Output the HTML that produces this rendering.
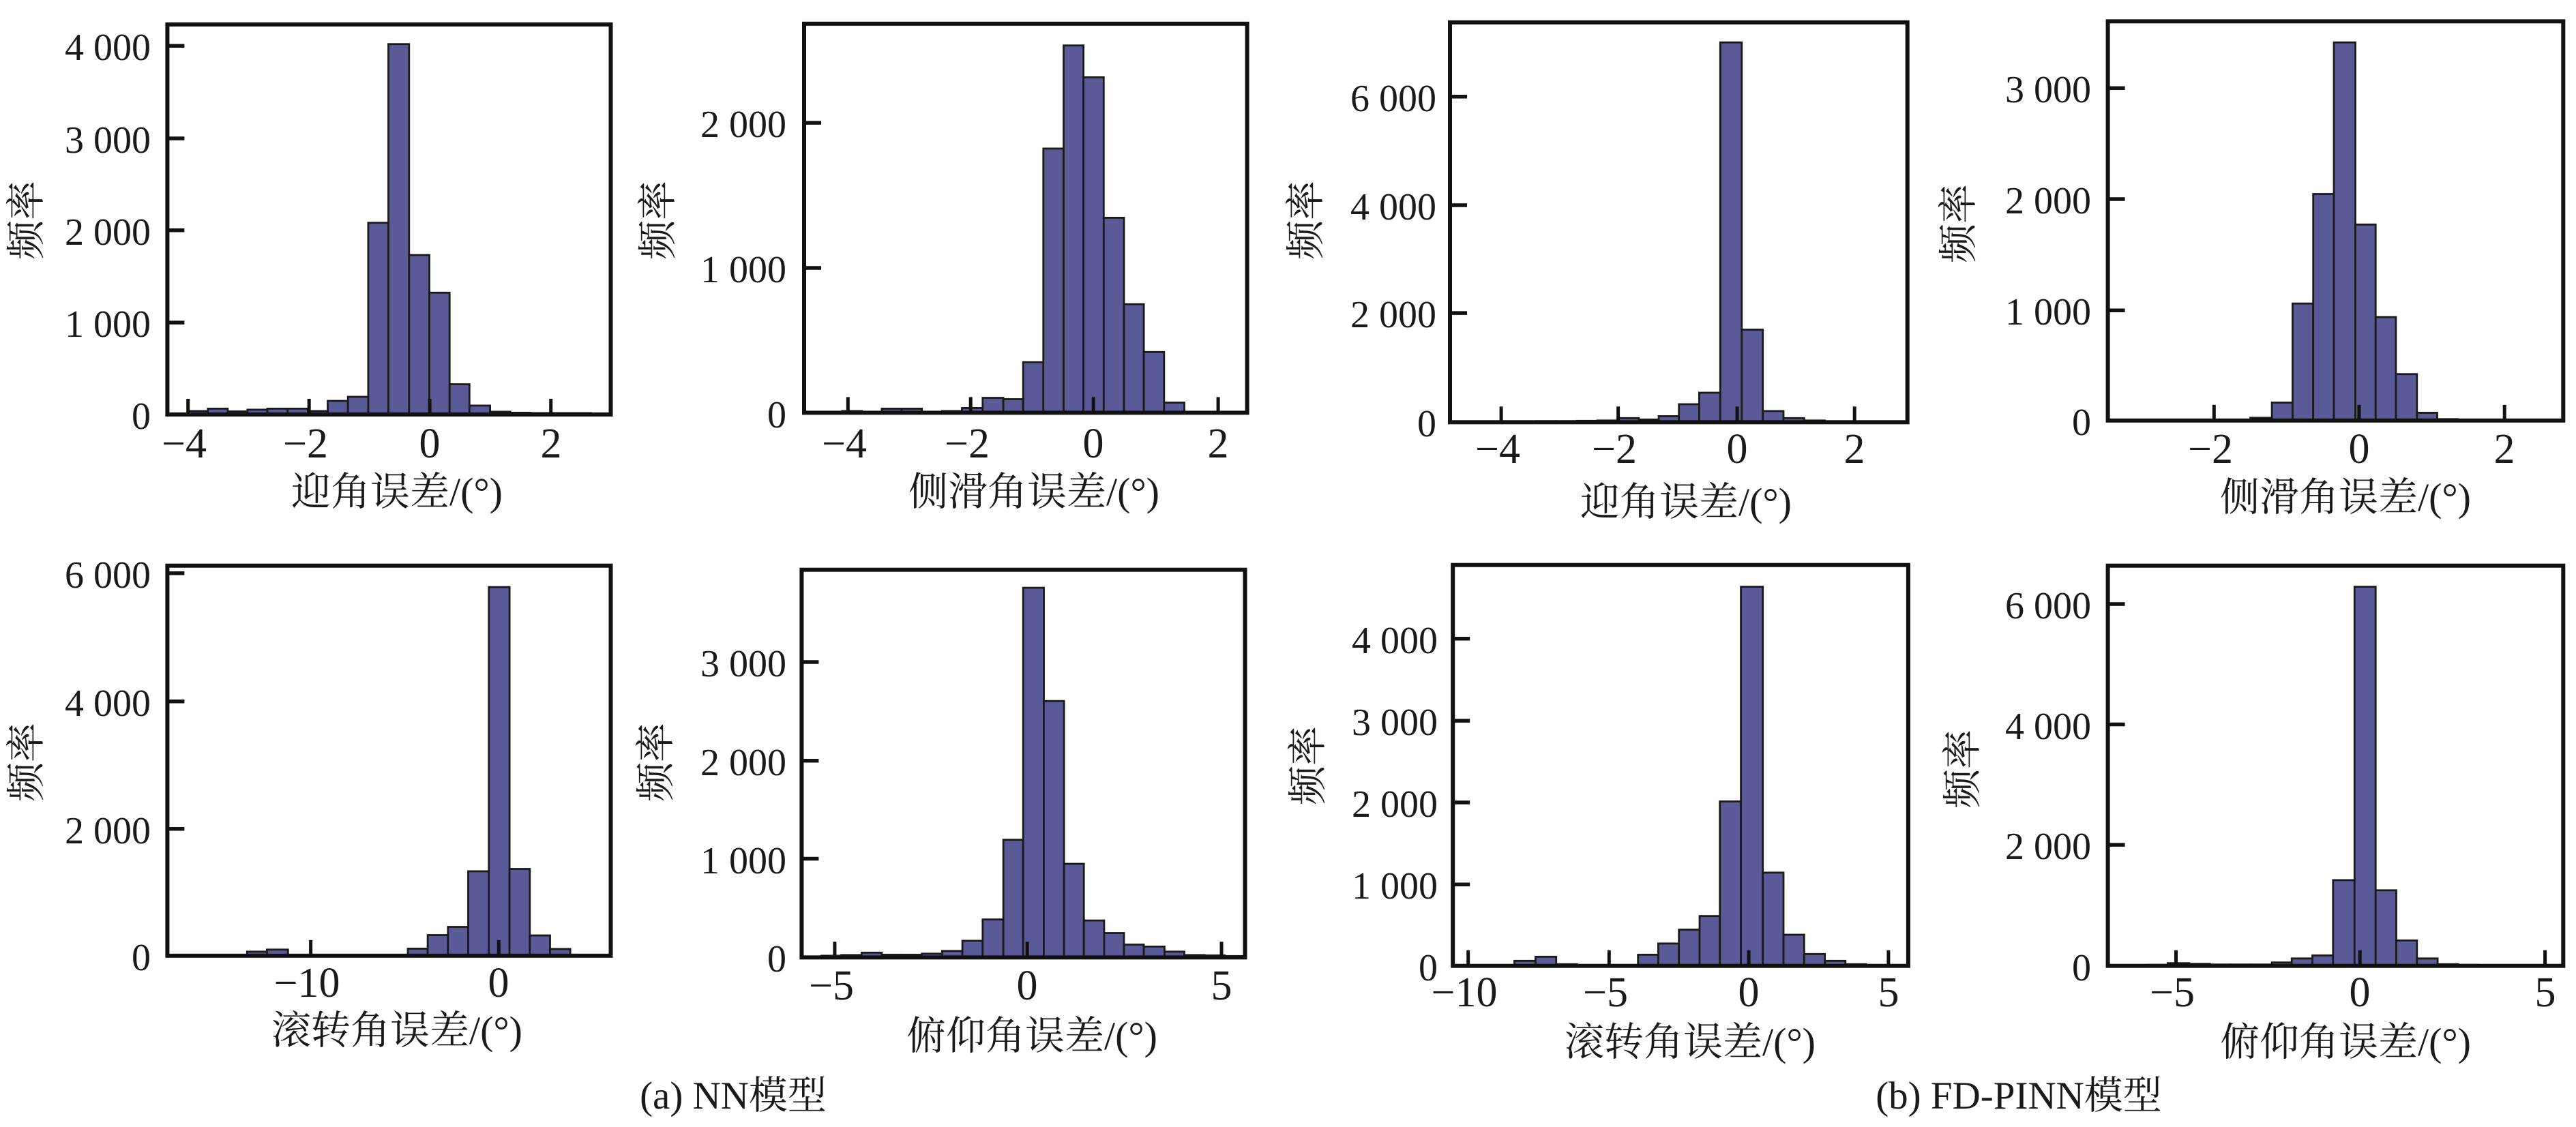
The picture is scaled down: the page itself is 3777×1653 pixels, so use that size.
<!DOCTYPE html>
<html><head><meta charset="utf-8">
<style>
html,body{margin:0;padding:0;background:#fff;}
svg{display:block;}
text{font-family:"Liberation Serif","Noto Serif CJK SC","Noto Sans CJK SC",serif;fill:#1a1a1a;}
.tk{font-size:62px;}
.yl{font-size:56px;text-anchor:end;}
.xl{font-size:62px;text-anchor:middle;}
.tt{font-size:58px;text-anchor:middle;}
.cap{font-size:57px;text-anchor:middle;}
</style></head>
<body>
<svg id="s" width="3777" height="1653" viewBox="0 0 3777 1653" xmlns="http://www.w3.org/2000/svg">
<g id="bars"></g>

<!-- Panel 1 -->
<text class="tk yl" x="221" y="88">4 000</text>
<text class="tk yl" x="221" y="224">3 000</text>
<text class="tk yl" x="221" y="359">2 000</text>
<text class="tk yl" x="221" y="494">1 000</text>
<text class="tk yl" x="221" y="629">0</text>
<text class="tk xl" x="270" y="671">−4</text>
<text class="tk xl" x="448" y="671">−2</text>
<text class="tk xl" x="630" y="671">0</text>
<text class="tk xl" x="808" y="671">2</text>
<text class="tt" x="582" y="741">迎角误差/(°)</text>
<text class="tt" transform="translate(58,323) rotate(-90)">频率</text>

<!-- Panel 2 -->
<text class="tk yl" x="1153" y="201">2 000</text>
<text class="tk yl" x="1153" y="414">1 000</text>
<text class="tk yl" x="1153" y="627">0</text>
<text class="tk xl" x="1238" y="671">−4</text>
<text class="tk xl" x="1418" y="671">−2</text>
<text class="tk xl" x="1603" y="671">0</text>
<text class="tk xl" x="1786" y="671">2</text>
<text class="tt" x="1516" y="741">侧滑角误差/(°)</text>
<text class="tt" transform="translate(984,323) rotate(-90)">频率</text>

<!-- Panel 3 -->
<text class="tk yl" x="2106" y="163">6 000</text>
<text class="tk yl" x="2106" y="322">4 000</text>
<text class="tk yl" x="2106" y="480">2 000</text>
<text class="tk yl" x="2106" y="640">0</text>
<text class="tk xl" x="2196" y="679">−4</text>
<text class="tk xl" x="2367" y="679">−2</text>
<text class="tk xl" x="2547" y="679">0</text>
<text class="tk xl" x="2719" y="679">2</text>
<text class="tt" x="2472" y="756">迎角误差/(°)</text>
<text class="tt" transform="translate(1934,323) rotate(-90)">频率</text>

<!-- Panel 4 -->
<text class="tk yl" x="3066" y="150">3 000</text>
<text class="tk yl" x="3066" y="313">2 000</text>
<text class="tk yl" x="3066" y="476">1 000</text>
<text class="tk yl" x="3066" y="638">0</text>
<text class="tk xl" x="3241" y="679">−2</text>
<text class="tk xl" x="3459" y="679">0</text>
<text class="tk xl" x="3672" y="679">2</text>
<text class="tt" x="3439" y="749">侧滑角误差/(°)</text>
<text class="tt" transform="translate(2891,328) rotate(-90)">频率</text>

<!-- Panel 5 -->
<text class="tk yl" x="221" y="862">6 000</text>
<text class="tk yl" x="221" y="1050">4 000</text>
<text class="tk yl" x="221" y="1237">2 000</text>
<text class="tk yl" x="221" y="1423">0</text>
<text class="tk xl" x="450" y="1462">−10</text>
<text class="tk xl" x="731" y="1462">0</text>
<text class="tt" x="582" y="1531">滚转角误差/(°)</text>
<text class="tt" transform="translate(58,1118) rotate(-90)">频率</text>

<!-- Panel 6 -->
<text class="tk yl" x="1153" y="992">3 000</text>
<text class="tk yl" x="1153" y="1137">2 000</text>
<text class="tk yl" x="1153" y="1281">1 000</text>
<text class="tk yl" x="1153" y="1425">0</text>
<text class="tk xl" x="1219" y="1466">−5</text>
<text class="tk xl" x="1506" y="1466">0</text>
<text class="tk xl" x="1791" y="1466">5</text>
<text class="tt" x="1513" y="1539">俯仰角误差/(°)</text>
<text class="tt" transform="translate(981,1118) rotate(-90)">频率</text>

<!-- Panel 7 -->
<text class="tk yl" x="2108" y="958">4 000</text>
<text class="tk yl" x="2108" y="1078">3 000</text>
<text class="tk yl" x="2108" y="1198">2 000</text>
<text class="tk yl" x="2108" y="1318">1 000</text>
<text class="tk yl" x="2108" y="1438">0</text>
<text class="tk xl" x="2147" y="1476">−10</text>
<text class="tk xl" x="2354" y="1476">−5</text>
<text class="tk xl" x="2564" y="1476">0</text>
<text class="tk xl" x="2769" y="1476">5</text>
<text class="tt" x="2478" y="1548">滚转角误差/(°)</text>
<text class="tt" transform="translate(1937,1123) rotate(-90)">频率</text>

<!-- Panel 8 -->
<text class="tk yl" x="3066" y="907">6 000</text>
<text class="tk yl" x="3066" y="1084">4 000</text>
<text class="tk yl" x="3066" y="1260">2 000</text>
<text class="tk yl" x="3066" y="1438">0</text>
<text class="tk xl" x="3185" y="1476">−5</text>
<text class="tk xl" x="3460" y="1476">0</text>
<text class="tk xl" x="3732" y="1476">5</text>
<text class="tt" x="3439" y="1548">俯仰角误差/(°)</text>
<text class="tt" transform="translate(2897,1128) rotate(-90)">频率</text>

<text class="cap" x="1075" y="1626">(a) NN模型</text>
<text class="cap" x="2960" y="1626">(b) FD-PINN模型</text>
</svg>
<script>
var SX=0.6059, SY=0.49744;
var P=[
 {o:[0,0],L:405,R:1478,T:72,B:1222,yt:[135,408,679,951],xt:[455,748,1040,1333],
  b:[[455,503,1212],[503,551,1205],[551,599,1213],[599,647,1208],[647,696,1205],[696,745,1205],[745,793,1212],[793,842,1182],[842,891,1170],[891,940,657],[940,990,130],[990,1039,752],[1039,1088,863],[1088,1136,1133],[1136,1186,1196],[1186,1235,1214],[1235,1284,1217],[1284,1332,1218],[1332,1381,1218],[1381,1430,1218]]},
 {o:[950,0],L:378,R:1450,T:70,B:1217,yt:[362,790],xt:[484,781,1078,1380],
  b:[[470,518,1212],[518,566,1215],[566,614,1205],[614,663,1205],[663,712,1215],[712,760,1212],[760,810,1203],[810,860,1173],[860,908,1177],[908,957,1068],[957,1006,438],[1006,1054,134],[1054,1103,228],[1103,1152,642],[1152,1200,897],[1200,1249,1038],[1249,1298,1187]]},
 {o:[1900,0],L:373,R:1480,T:66,B:1245,yt:[285,605,923],xt:[497,780,1068,1352],
  b:[[430,480,1243],[480,530,1243],[530,580,1243],[580,630,1242],[630,680,1242],[680,730,1241],[730,780,1240],[780,830,1233],[830,878,1237],[878,927,1227],[927,976,1192],[976,1027,1158],[1027,1079,125],[1079,1130,972],[1130,1180,1212],[1180,1230,1233],[1230,1280,1240],[1280,1330,1243],[1330,1380,1244],[1380,1430,1244]]},
 {o:[2827,0],L:435,R:1537,T:63,B:1240,yt:[260,587,915],xt:[692,1043,1395],
  b:[[530,580,1238],[580,630,1238],[630,680,1238],[680,730,1238],[730,780,1238],[780,832,1232],[832,882,1187],[882,932,895],[932,982,572],[982,1034,125],[1034,1083,662],[1083,1132,935],[1132,1183,1103],[1183,1232,1217],[1232,1282,1236]]},
 {o:[0,780],L:405,R:1478,T:100,B:1250,yt:[122,500,876],xt:[752,1207],
  b:[[598,646,1238],[646,697,1232],[697,745,1249],[987,1035,1229],[1035,1084,1189],[1084,1133,1165],[1133,1183,1001],[1183,1233,163],[1233,1282,994],[1282,1331,1190],[1331,1380,1230]]},
 {o:[950,780],L:372,R:1445,T:112,B:1255,yt:[384,675,964],xt:[452,918,1388],
  b:[[420,468,1250],[468,517,1248],[517,566,1241],[566,614,1247],[614,663,1247],[663,712,1244],[712,761,1236],[761,810,1206],[810,860,1143],[860,908,908],[908,958,165],[958,1007,499],[1007,1055,979],[1055,1104,1146],[1104,1152,1183],[1152,1200,1217],[1200,1250,1223],[1250,1298,1238],[1298,1347,1248],[1347,1396,1249],[1396,1440,1251]]},
 {o:[1900,780],L:380,R:1482,T:98,B:1280,yt:[315,557,798,1040],xt:[417,758,1096,1434],
  b:[[529,580,1265],[580,630,1253],[630,680,1275],[828,877,1247],[877,927,1214],[927,977,1173],[977,1026,1133],[1026,1077,795],[1077,1130,162],[1130,1180,1005],[1180,1230,1188],[1230,1280,1245],[1280,1330,1265],[1330,1380,1275]]},
 {o:[2827,780],L:435,R:1537,T:100,B:1280,yt:[213,568,923],xt:[600,1045,1493],
  b:[[530,580,1277],[580,632,1272],[632,682,1274],[682,732,1276],[732,782,1276],[782,832,1276],[832,880,1270],[880,930,1258],[930,980,1249],[980,1032,1027],[1032,1083,162],[1083,1133,1057],[1133,1183,1205],[1183,1233,1258],[1233,1283,1275],[1283,1333,1277]]}
];
var g=document.getElementById("bars"), h="";
P.forEach(function(p){
 var ox=p.o[0],oy=p.o[1];
 function X(v){return (ox+v*SX).toFixed(1);} function Y(v){return (oy+v*SY).toFixed(1);}
 var B=+Y(p.B);
 p.b.forEach(function(b){
  var x0=+X(b[0]),x1=+X(b[1]),t=+Y(b[2]);
  h+='<rect x="'+x0+'" y="'+t+'" width="'+(x1-x0).toFixed(1)+'" height="'+(B-t).toFixed(1)+'" fill="#5b5a98" stroke="#1a1a1a" stroke-width="2.8"/>';
 });
 var L=+X(p.L),R=+X(p.R),T=+Y(p.T);
 p.yt.forEach(function(v){var y=Y(v);h+='<line x1="'+L+'" y1="'+y+'" x2="'+(L+25)+'" y2="'+y+'" stroke="#111" stroke-width="5.5"/>';});
 p.xt.forEach(function(v){var x=X(v);h+='<line x1="'+x+'" y1="'+B+'" x2="'+x+'" y2="'+(B-23)+'" stroke="#111" stroke-width="5"/>';});
 h+='<rect x="'+L+'" y="'+T+'" width="'+(R-L).toFixed(1)+'" height="'+(B-T).toFixed(1)+'" fill="none" stroke="#111" stroke-width="6"/>';
});
g.innerHTML=h;
</script>
</body></html>
